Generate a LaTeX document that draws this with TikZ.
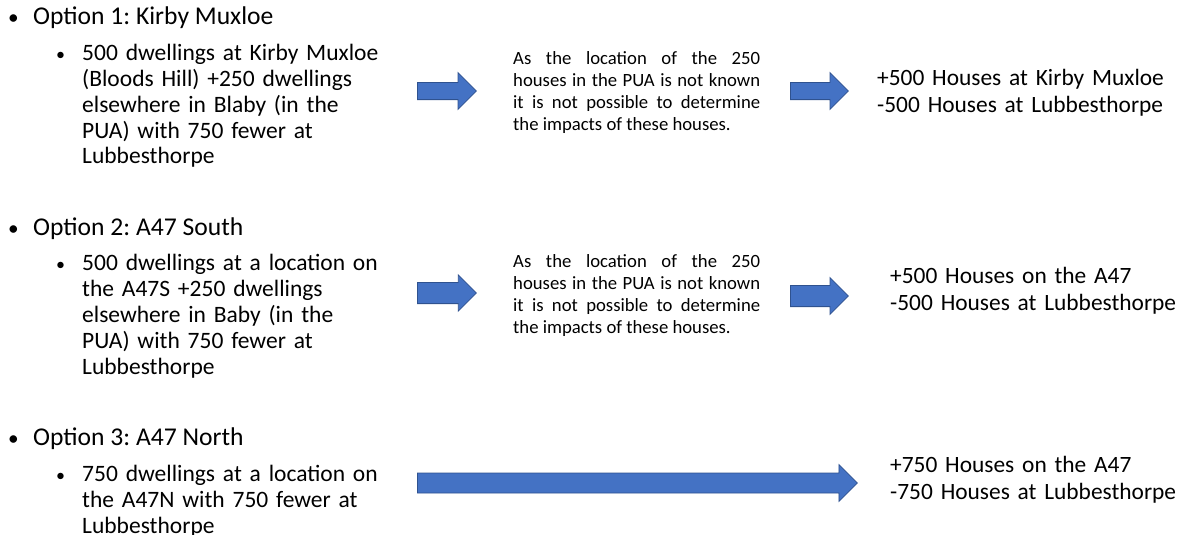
\documentclass[tikz,border=0pt]{standalone}
\usepackage{fontspec}
\setmainfont{Carlito}
\usetikzlibrary{shapes.arrows}
\definecolor{arrowfill}{HTML}{4472C4}
\definecolor{arrowline}{HTML}{2F528F}
\frenchspacing

\begin{document}
\begin{tikzpicture}[x=1pt,y=-1pt,
  head/.style={font=\fontsize{25.6}{26}\selectfont, inner sep=0pt, anchor=base west},
  big/.style={font=\fontsize{23.5}{26}\selectfont, inner sep=0pt, anchor=base west, text width=330pt, align=left},
  result/.style={font=\fontsize{23.4}{27}\selectfont, inner sep=0pt, anchor=base west, text width=300pt, align=left},
  note/.style={font=\fontsize{18.7}{22.3}\selectfont, inner sep=0pt, anchor=base west, text width=247pt, align=justify},
  bullet/.style={font=\fontsize{21.3}{26}\selectfont, inner sep=0pt, anchor=base west},
  subbullet/.style={font=\fontsize{18}{26}\selectfont, inner sep=0pt, anchor=base west},
  blockarrow/.style={single arrow, draw=arrowline, fill=arrowfill, line width=0.8pt, inner xsep=0pt, minimum width=36pt, anchor=tail}]
\useasboundingbox (0,0) rectangle (1186,535);
% \draw [help lines] (0,0) grid (1186,535);

%% Option 1
\node[bullet] (bulA) at (8,25) {•};
\node[head] (optA) at (33,25) {Option 1: Kirby Muxloe};
\node[subbullet] (subA) at (56,60) {•};
\node[big] (txtA) at (82,60) {500 dwellings at Kirby Muxloe\\(Bloods Hill) +250 dwellings\\elsewhere in Blaby (in the\\PUA) with 750 fewer at\\Lubbesthorpe};
\node[blockarrow, minimum height=59pt, inner ysep=8.2pt, single arrow head extend=9.8pt] (arrA) at (417,91) {};
\node[note] (noteA) at (513,64) {As the location of the 250\linebreak houses in the PUA is not known\linebreak it is not possible to determine\linebreak the impacts of these houses.};
\node[blockarrow, minimum height=58pt, inner ysep=8.2pt, single arrow head extend=9.8pt] (arrAA) at (790,91) {};
\node[result] (resA) at (877,85) {+500 Houses at Kirby Muxloe\\-500 Houses at Lubbesthorpe};

%% Option 2
\node[bullet] (bulB) at (8,235) {•};
\node[head] (optB) at (33,235) {Option 2: A47 South};
\node[subbullet] (subB) at (56,270) {•};
\node[big] (txtB) at (82,270) {500 dwellings at a location on\\the A47S +250 dwellings\\elsewhere in Baby (in the\\PUA) with 750 fewer at\\Lubbesthorpe};
\node[blockarrow, minimum height=59pt, inner ysep=10.2pt, single arrow head extend=7.5pt] (arrB) at (417,293) {};
\node[note] (noteB) at (513,267) {As the location of the 250\linebreak houses in the PUA is not known\linebreak it is not possible to determine\linebreak the impacts of these houses.};
\node[blockarrow, minimum height=58pt, inner ysep=10.2pt, single arrow head extend=7.8pt] (arrBB) at (790,296) {};
\node[result] (resB) at (890,283) {+500 Houses on the A47\\-500 Houses at Lubbesthorpe};

%% Option 3
\node[bullet] (bulC) at (8,445) {•};
\node[head] (optC) at (33,445) {Option 3: A47 North};
\node[subbullet] (subC) at (56,481) {•};
\node[big] (txtC) at (82,481) {750 dwellings at a location on\\the A47N with 750 fewer at\\Lubbesthorpe};
\node[blockarrow, minimum height=440pt, inner ysep=9.6pt, single arrow head extend=8.5pt] (arrC) at (417,483) {};
\node[result] (resC) at (890,472) {+750 Houses on the A47\\-750 Houses at Lubbesthorpe};

\end{tikzpicture}
\end{document}
